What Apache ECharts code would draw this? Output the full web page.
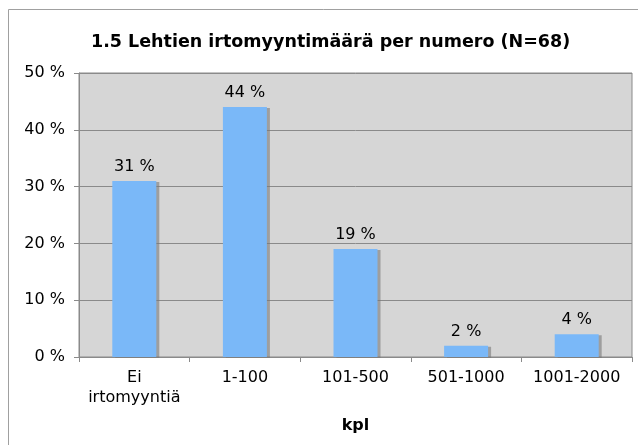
<!DOCTYPE html>
<html><head><meta charset="utf-8">
<script src="https://cdn.jsdelivr.net/npm/echarts@6/dist/echarts.min.js"></script>
<style>html,body{margin:0;padding:0;background:#fff}#c{width:638px;height:445px}</style>
</head><body><div id="c"></div>
<script>
const categories = ['Ei\nirtomyyntiä', '1-100', '101-500', '501-1000', '1001-2000'];
const values = [31, 44, 19, 2, 4];
const yTicks = [0, 10, 20, 30, 40, 50];
const titleText = '1.5 Lehtien irtomyyntimäärä per numero (N=68)';
const xName = 'kpl';

const font = "'DejaVu Sans', Verdana, sans-serif";
const chart = echarts.init(document.getElementById('c'), null, {renderer: 'canvas'});
chart.setOption({
  animation: false,
  graphic: [{
    type: 'rect', left: 8, top: 9, z: -10,
    shape: {width: 640, height: 450},
    style: {fill: '#fff', stroke: '#a0a0a0', lineWidth: 1}
  }],
  title: {
    text: titleText, left: 86, top: 28,
    textStyle: {fontFamily: font, fontWeight: 'bold', fontSize: 17.5, color: '#000'}
  },
  grid: {left: 79, right: 6, top: 73, bottom: 88, show: true, backgroundColor: '#d6d6d6', borderColor: '#8a8a8a', borderWidth: 1},
  xAxis: {
    type: 'category', data: categories,
    name: xName, nameLocation: 'middle', nameGap: 61,
    nameTextStyle: {fontFamily: font, fontWeight: 'bold', fontSize: 16, color: '#000'},
    axisLine: {lineStyle: {color: '#8a8a8a'}},
    axisTick: {show: true, length: 5, lineStyle: {color: '#8a8a8a'}},
    axisLabel: {interval: 0, fontFamily: font, fontSize: 16, color: '#000', margin: 11, lineHeight: 20}
  },
  yAxis: {
    type: 'value', min: yTicks[0], max: yTicks[yTicks.length - 1], interval: 10,
    axisLine: {show: true, lineStyle: {color: '#8a8a8a'}},
    axisTick: {show: true, length: 5, lineStyle: {color: '#8a8a8a'}},
    splitLine: {lineStyle: {color: '#8a8a8a', width: 1}},
    axisLabel: {fontFamily: font, fontSize: 16, color: '#000', margin: 14, formatter: v => v + ' %'}
  },
  series: [{
    type: 'bar', data: values, barWidth: 44,
    itemStyle: {color: '#7ab8f8', shadowColor: 'rgba(120,120,120,0.6)', shadowOffsetX: 3, shadowOffsetY: 1, shadowBlur: 0},
    label: {show: true, position: 'top', distance: 6, fontFamily: font, fontSize: 16, color: '#000', formatter: p => p.value + ' %'}
  }]
});
</script></body></html>
